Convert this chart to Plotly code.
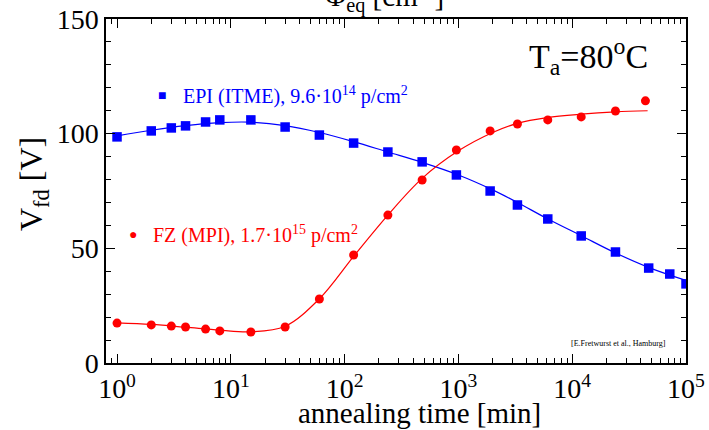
import numpy as np
import plotly.graph_objects as go

# ---- data ----
epi_t = [1, 2, 3, 4, 6, 8, 15, 30, 60, 120, 240, 480, 960, 1900, 3300, 6100, 12000, 24000, 47000, 72000, 100000]
epi_v = [98.6, 101.2, 102.5, 103.4, 105.1, 106.0, 106.0, 102.9, 99.4, 95.9, 92.0, 87.7, 82.0, 75.0, 68.9, 62.8, 55.4, 48.4, 41.4, 38.8, 34.5]

fz_t = [1, 2, 3, 4, 6, 8, 15, 30, 60, 120, 240, 480, 960, 1900, 3300, 6100, 12000, 24000, 44000]
fz_v = [17.4, 16.6, 16.1, 15.7, 14.8, 14.0, 13.5, 15.7, 27.9, 47.1, 64.5, 79.8, 92.9, 101.2, 104.2, 106.0, 107.3, 109.9, 114.3]

epi_fit_t = [1, 2, 4, 8, 15, 30, 60, 120, 240, 480, 1000, 2000, 3300, 6000, 12000, 24000, 48000, 100000]
epi_fit_v = [99.0, 101.5, 103.5, 104.8, 105.0, 103.5, 100.5, 96.5, 92.0, 87.5, 82.0, 75.5, 70.0, 63.0, 55.5, 48.0, 41.5, 36.0]

fz_fit_t = [1, 2, 4, 8, 15, 30, 60, 120, 240, 480, 1000, 2000, 3300, 6000, 12000, 24000, 46000]
fz_fit_v = [17.5, 16.8, 15.6, 14.3, 13.6, 16.0, 28.0, 46.5, 64.5, 80.5, 92.5, 100.5, 104.5, 107.0, 108.5, 109.5, 110.0]

x_major = [1, 10, 100, 1000, 10000, 100000]
x_major_text = ["10<sup>0</sup>", "10<sup>1</sup>", "10<sup>2</sup>", "10<sup>3</sup>", "10<sup>4</sup>", "10<sup>5</sup>"]
x_minor = [m * 10 ** e for e in range(-1, 5) for m in range(2, 10)]
y_major = [0, 50, 100, 150]
y_minor = list(range(0, 151, 10))

BLUE = "#0000ff"
RED = "#ff0000"
FONT = "Times New Roman, Liberation Serif, DejaVu Serif, serif"

fig = go.Figure()
fig.add_trace(go.Scatter(x=epi_fit_t, y=epi_fit_v, mode="lines", line=dict(color=BLUE, width=1.2, shape="spline"), showlegend=False))
fig.add_trace(go.Scatter(x=fz_fit_t, y=fz_fit_v, mode="lines", line=dict(color=RED, width=1.2, shape="spline"), showlegend=False))
fig.add_trace(go.Scatter(x=epi_t, y=epi_v, mode="markers", marker=dict(symbol="square", size=9.5, color=BLUE), showlegend=False))
fig.add_trace(go.Scatter(x=fz_t, y=fz_v, mode="markers", marker=dict(symbol="circle", size=9, color=RED), showlegend=False))

axis_common = dict(showgrid=False, zeroline=False, showline=True, linecolor="black", linewidth=1.5,
                   ticks="inside", tickcolor="black", tickwidth=1, mirror="ticks", automargin=False,
                   tickfont=dict(family=FONT, size=28, color="black"))

fig.update_xaxes(type="log", range=[np.log10(0.8), 5], tickmode="array", tickvals=x_major, ticktext=x_major_text,
                 ticklen=9, minor=dict(tickmode="array", tickvals=x_minor, ticks="inside", ticklen=5, tickcolor="black"),
                 **axis_common)
fig.update_yaxes(range=[0, 150], tickmode="array", tickvals=y_major, ticklen=9,
                 minor=dict(tickmode="array", tickvals=y_minor, ticks="inside", ticklen=5, tickcolor="black"),
                 **axis_common)

ann = [
    dict(text="Φ<sub>eq</sub> [cm<sup>-2</sup>]", x=0.48, y=1.066, font=dict(size=29)),
    dict(text="annealing time [min]", x=0.540, y=-0.146, font=dict(size=29)),
    dict(text="V<sub>fd</sub> [V]", x=-0.126, y=0.52, textangle=-90, font=dict(size=32)),
    dict(text="T<sub>a</sub>=80<sup>o</sup>C", x=0.726, y=0.89, xanchor="left", font=dict(size=34)),
    dict(text="[E.Fretwurst et al., Hamburg]", x=0.884, y=0.058, font=dict(size=8)),
    dict(text="■", x=0.0966, y=0.779, font=dict(size=14, color=BLUE)),
    dict(text="EPI (ITME), 9.6·10<sup>14</sup> p/cm<sup>2</sup>", x=0.129, y=0.779, xanchor="left", font=dict(size=20, color=BLUE)),
    dict(text="●", x=0.0466, y=0.375, font=dict(size=14, color=RED)),
    dict(text="FZ (MPI), 1.7·10<sup>15</sup> p/cm<sup>2</sup>", x=0.0776, y=0.375, xanchor="left", font=dict(size=20, color=RED)),
]
annotations = []
for a in ann:
    base = dict(xref="paper", yref="paper", showarrow=False, xanchor="center", yanchor="middle")
    base.update(a)
    f = dict(family=FONT, color="black")
    f.update(a.get("font", {}))
    base["font"] = f
    annotations.append(base)

fig.update_layout(width=709, height=430, margin=dict(l=106, r=23, t=19, b=67),
                  paper_bgcolor="white", plot_bgcolor="white", annotations=annotations,
                  font=dict(family=FONT))

fig.write_html("out.html")
